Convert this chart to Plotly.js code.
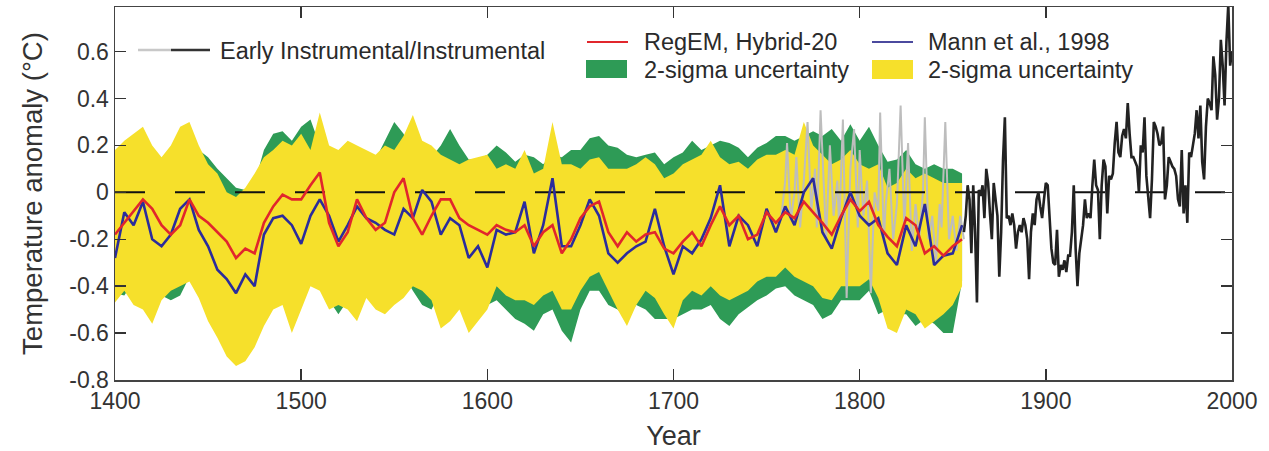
<!DOCTYPE html>
<html>
<head>
<meta charset="utf-8">
<script src="https://cdn.plot.ly/plotly-3.0.1.min.js"></script>
<style>
html,body{margin:0;padding:0;background:#fff;}
#chart{width:1269px;height:451px;}
</style>
</head>
<body>
<div id="chart"></div>
<script>
// ---------- DATA ----------
var recYears = [1400,1405,1410,1415,1420,1425,1430,1435,1440,1445,1450,1455,1460,1465,1470,1475,1480,1485,1490,1495,
1500,1505,1510,1515,1520,1525,1530,1535,1540,1545,1550,1555,1560,1565,1570,1575,1580,1585,1590,1595,
1600,1605,1610,1615,1620,1625,1630,1635,1640,1645,1650,1655,1660,1665,1670,1675,1680,1685,1690,1695,
1700,1705,1710,1715,1720,1725,1730,1735,1740,1745,1750,1755,1760,1765,1770,1775,1780,1785,1790,1795,
1800,1805,1810,1815,1820,1825,1830,1835,1840,1845,1850,1855];

// RegEM, Hybrid-20 reconstruction
var regem = [-0.18,-0.13,-0.085,-0.03,-0.07,-0.14,-0.18,-0.14,-0.03,-0.10,-0.13,-0.17,-0.21,-0.28,-0.24,-0.26,-0.13,-0.06,-0.01,-0.03,
-0.03,0.03,0.085,-0.13,-0.23,-0.17,-0.03,-0.11,-0.16,-0.13,0.0,0.06,-0.11,-0.18,-0.10,-0.03,-0.03,-0.11,-0.14,-0.16,
-0.18,-0.14,-0.16,-0.17,-0.14,-0.23,-0.17,-0.14,-0.26,-0.20,-0.11,-0.06,-0.04,-0.17,-0.23,-0.17,-0.21,-0.18,-0.17,-0.24,
-0.26,-0.21,-0.17,-0.23,-0.14,-0.06,-0.14,-0.10,-0.20,-0.18,-0.085,-0.13,-0.085,-0.11,-0.04,-0.085,-0.13,-0.18,-0.10,-0.03,
-0.08,-0.04,-0.14,-0.19,-0.23,-0.11,-0.14,-0.26,-0.23,-0.27,-0.23,-0.20];

// Mann et al., 1998 reconstruction
var mann = [-0.28,-0.085,-0.14,-0.04,-0.20,-0.23,-0.18,-0.07,-0.03,-0.16,-0.23,-0.33,-0.37,-0.43,-0.35,-0.40,-0.18,-0.11,-0.10,-0.14,
-0.22,-0.10,-0.03,-0.10,-0.21,-0.14,-0.06,-0.11,-0.13,-0.16,-0.18,-0.07,-0.11,0.01,-0.04,-0.18,-0.11,-0.14,-0.28,-0.23,
-0.32,-0.16,-0.18,-0.17,-0.04,-0.26,-0.14,0.06,-0.23,-0.23,-0.14,-0.03,-0.10,-0.26,-0.30,-0.26,-0.23,-0.21,-0.07,-0.23,
-0.35,-0.23,-0.26,-0.20,-0.11,0.03,-0.23,-0.10,-0.14,-0.23,-0.07,-0.17,-0.06,-0.14,0.0,0.06,-0.17,-0.24,-0.11,0.0,
-0.10,-0.14,-0.11,-0.26,-0.31,-0.14,-0.23,-0.05,-0.31,-0.27,-0.26,-0.14];

// RegEM 2-sigma band (green)
var regemUpper = [0.15,0.15,0.20,0.22,0.17,0.10,0.12,0.15,0.20,0.18,0.15,0.10,0.06,0.02,0.01,0.04,0.18,0.25,0.26,0.22,
0.28,0.31,0.20,0.08,0.05,0.10,0.14,0.12,0.14,0.22,0.30,0.25,0.15,0.12,0.15,0.20,0.27,0.20,0.14,0.14,
0.16,0.20,0.17,0.13,0.16,0.15,0.12,0.16,0.15,0.18,0.18,0.23,0.24,0.20,0.19,0.16,0.15,0.16,0.17,0.12,
0.15,0.17,0.22,0.18,0.20,0.22,0.21,0.19,0.15,0.19,0.21,0.24,0.24,0.22,0.24,0.26,0.24,0.27,0.22,0.29,
0.22,0.28,0.20,0.13,0.14,0.18,0.12,0.10,0.12,0.10,0.10,0.08];
var regemLower = [-0.43,-0.44,-0.38,-0.36,-0.40,-0.44,-0.46,-0.44,-0.36,-0.38,-0.40,-0.42,-0.46,-0.52,-0.50,-0.50,-0.40,-0.36,-0.30,-0.30,
-0.30,-0.25,-0.22,-0.46,-0.52,-0.46,-0.35,-0.38,-0.42,-0.44,-0.36,-0.35,-0.42,-0.48,-0.50,-0.42,-0.38,-0.38,-0.42,-0.46,
-0.48,-0.46,-0.50,-0.54,-0.56,-0.59,-0.52,-0.50,-0.59,-0.64,-0.50,-0.42,-0.42,-0.48,-0.50,-0.54,-0.48,-0.50,-0.54,-0.54,
-0.54,-0.52,-0.50,-0.50,-0.48,-0.54,-0.57,-0.52,-0.49,-0.46,-0.44,-0.41,-0.40,-0.44,-0.46,-0.48,-0.54,-0.52,-0.46,-0.46,
-0.46,-0.42,-0.52,-0.50,-0.52,-0.52,-0.57,-0.54,-0.56,-0.60,-0.60,-0.38];

// Mann 2-sigma band (yellow)
var mannUpper = [0.18,0.22,0.25,0.28,0.20,0.15,0.20,0.28,0.30,0.20,0.12,0.08,0.00,-0.02,0.02,0.08,0.15,0.18,0.22,0.20,
0.25,0.18,0.34,0.20,0.18,0.22,0.20,0.18,0.16,0.20,0.18,0.24,0.33,0.22,0.20,0.16,0.14,0.12,0.14,0.15,
0.16,0.10,0.12,0.10,0.18,0.08,0.10,0.30,0.12,0.12,0.10,0.14,0.15,0.10,0.10,0.10,0.12,0.15,0.12,0.06,
0.08,0.12,0.14,0.16,0.22,0.15,0.12,0.13,0.10,0.14,0.16,0.16,0.18,0.16,0.30,0.20,0.16,0.12,0.14,0.18,
0.12,0.10,0.12,0.02,0.04,0.10,0.06,0.08,0.06,0.04,0.04,0.04];
var mannLower = [-0.47,-0.42,-0.48,-0.50,-0.56,-0.46,-0.42,-0.40,-0.38,-0.45,-0.55,-0.62,-0.70,-0.74,-0.72,-0.66,-0.57,-0.50,-0.48,-0.60,
-0.50,-0.40,-0.42,-0.50,-0.48,-0.50,-0.55,-0.45,-0.50,-0.52,-0.48,-0.45,-0.40,-0.42,-0.46,-0.58,-0.55,-0.50,-0.60,-0.55,
-0.50,-0.40,-0.44,-0.46,-0.46,-0.48,-0.44,-0.42,-0.50,-0.50,-0.42,-0.36,-0.34,-0.42,-0.50,-0.57,-0.48,-0.42,-0.45,-0.52,
-0.58,-0.46,-0.42,-0.44,-0.40,-0.44,-0.46,-0.44,-0.42,-0.38,-0.36,-0.36,-0.32,-0.36,-0.38,-0.40,-0.45,-0.46,-0.40,-0.40,
-0.40,-0.37,-0.45,-0.58,-0.60,-0.50,-0.52,-0.58,-0.55,-0.52,-0.48,-0.40];

// Early instrumental (grey)
var earlyYears = [1758,1760,1761,1763,1765,1766,1768,1770,1772,1774,1776,1777,1779,1781,1782,1784,1786,1788,1789,1791,1793,1795,1797,1799,
1800,1802,1804,1806,1808,1810,1811,1813,1814,1816,1818,1820,1822,1824,1826,1828,1830,1832,1834,1835,1837,1839,1841,1843,1844,1846,1848,1850,1852,1854,1856];
var earlyVals = [-0.10,0.05,0.21,-0.12,0.00,0.15,-0.15,0.05,0.30,-0.08,0.10,-0.15,0.35,-0.05,-0.20,0.20,-0.10,0.05,-0.15,0.31,-0.45,0.10,0.27,-0.15,
0.18,-0.10,0.05,-0.43,0.00,-0.08,0.34,-0.20,-0.05,0.10,-0.20,-0.05,0.37,-0.15,0.21,-0.25,-0.05,-0.20,0.00,0.32,-0.20,-0.10,-0.30,-0.05,-0.15,0.30,-0.20,-0.10,-0.25,-0.10,-0.20];

// Instrumental (black)
var instYears = [1856,1857,1858,1859,1860,1861,1862,1863,1864,1865,1866,1867,1868,1869,1870,1871,1872,1873,1874,1875,1876,1877,1878,1879,
1880,1881,1882,1883,1884,1885,1886,1887,1888,1889,1890,1891,1892,1893,1894,1895,1896,1897,1898,1899,
1900,1901,1902,1903,1904,1905,1906,1907,1908,1909,1910,1911,1912,1913,1914,1915,1916,1917,1918,1919,
1920,1921,1922,1923,1924,1925,1926,1927,1928,1929,1930,1931,1932,1933,1934,1935,1936,1937,1938,1939,
1940,1941,1942,1943,1944,1945,1946,1947,1948,1949,1950,1951,1952,1953,1954,1955,1956,1957,1958,1959,
1960,1961,1962,1963,1964,1965,1966,1967,1968,1969,1970,1971,1972,1973,1974,1975,1976,1977,1978,1979,
1980,1981,1982,1983,1984,1985,1986,1987,1988,1989,1990,1991,1992,1993,1994,1995,1996,1997,1998,1999,2000];
var instVals = [-0.17,-0.10,0.03,-0.03,-0.26,0.03,-0.17,-0.47,0.01,-0.015,0.03,-0.11,0.10,0.04,-0.09,-0.20,0.04,-0.03,-0.10,-0.36,-0.17,0.14,0.32,-0.11,
-0.10,-0.14,-0.09,-0.14,-0.24,-0.17,-0.14,-0.17,-0.11,-0.14,-0.20,-0.37,-0.17,-0.09,-0.14,-0.03,0.00,-0.06,-0.11,-0.03,
0.04,0.03,-0.10,-0.24,-0.30,-0.31,-0.16,-0.36,-0.31,-0.33,-0.29,-0.34,-0.27,-0.27,-0.17,0.03,-0.24,-0.40,-0.26,-0.20,
-0.14,-0.03,-0.11,-0.09,-0.11,0.03,0.14,0.03,0.01,-0.20,0.03,0.14,0.11,-0.09,0.07,0.055,0.08,0.21,0.30,0.17,
0.15,0.24,0.27,0.23,0.38,0.25,0.15,0.15,0.13,0.11,0.00,0.20,0.17,0.32,0.07,-0.03,-0.11,0.055,0.30,0.28,
0.25,0.20,0.21,0.28,-0.03,0.03,0.15,0.13,0.11,0.10,0.07,-0.03,-0.06,0.18,-0.09,0.03,-0.13,0.17,0.15,0.20,
0.25,0.35,0.23,0.37,0.13,0.055,0.28,0.40,0.38,0.35,0.58,0.50,0.31,0.40,0.65,0.54,0.37,0.64,0.80,0.54,0.60];

// zero reference line
var refYears = [1400, 2000];
var refVals = [0, 0];

// axis ticks
var xTickVals = [1400,1500,1600,1700,1800,1900,2000];
var xTickText = ['1400','1500','1600','1700','1800','1900','2000'];
var yTickVals = [-0.8,-0.6,-0.4,-0.2,0,0.2,0.4,0.6];
var yTickText = ['-0.8','-0.6','-0.4','-0.2','0','0.2','0.4','0.6'];

// legend labels
var legendLabels = ['Early Instrumental/Instrumental','RegEM, Hybrid-20','Mann et al., 1998','2-sigma uncertainty','2-sigma uncertainty'];

// ---------- STYLE ----------
var C = {green:'#2e9b56', yellow:'#f6e02b', red:'#e1262c', blue:'#2b2c9c', grey:'#bdbdbd', black:'#222222', legBlue:'#4b4a9e'};
var FONT = '"Liberation Sans", Arial, Helvetica, sans-serif';

function band(xs, up, lo){
  var x = xs.slice().concat(xs.slice().reverse());
  var y = up.slice().concat(lo.slice().reverse());
  return {x:x, y:y};
}
var gb = band(recYears, regemUpper, regemLower);
var yb = band(recYears, mannUpper, mannLower);

var traces = [
  {x:gb.x, y:gb.y, type:'scatter', mode:'lines', fill:'toself', fillcolor:C.green, line:{width:0, color:C.green}, hoverinfo:'skip'},
  {x:yb.x, y:yb.y, type:'scatter', mode:'lines', fill:'toself', fillcolor:C.yellow, line:{width:0, color:C.yellow}, hoverinfo:'skip'},
  {x:earlyYears, y:earlyVals, type:'scatter', mode:'lines', line:{color:C.grey, width:2}},
  {x:refYears, y:refVals, type:'scatter', mode:'lines', line:{color:'#111', width:2, dash:'30px,30px'}},
  {x:recYears, y:mann, type:'scatter', mode:'lines', line:{color:C.blue, width:2.6}},
  {x:recYears, y:regem, type:'scatter', mode:'lines', line:{color:C.red, width:2.6}},
  {x:instYears, y:instVals, type:'scatter', mode:'lines', line:{color:C.black, width:2.6}}
];

// plot area in px: x 115..1232, y 7..380
var L = 115, R = 1232, T = 7, B = 380;
function px(x){ return (x - L) / (R - L); }
function py(y){ return (B - y) / (B - T); }

var shapes = [
  {type:'line', xref:'paper', yref:'paper', x0:px(138), x1:px(171), y0:py(50), y1:py(50), line:{color:'#c8c8c8', width:2.5}},
  {type:'line', xref:'paper', yref:'paper', x0:px(171), x1:px(210), y0:py(50), y1:py(50), line:{color:'#333', width:2.5}},
  {type:'line', xref:'paper', yref:'paper', x0:px(587), x1:px(628), y0:py(42), y1:py(42), line:{color:C.red, width:2}},
  {type:'line', xref:'paper', yref:'paper', x0:px(872), x1:px(913), y0:py(42), y1:py(42), line:{color:C.legBlue, width:2}},
  {type:'rect', xref:'paper', yref:'paper', x0:px(586), x1:px(627), y0:py(78), y1:py(60), fillcolor:C.green, line:{width:0}},
  {type:'rect', xref:'paper', yref:'paper', x0:px(872), x1:px(913), y0:py(79), y1:py(60), fillcolor:C.yellow, line:{width:0}}
];
var legFont = {family:FONT, size:23.5, color:'#2a2a2a'};
var annotations = [
  {xref:'paper', yref:'paper', x:px(218), y:py(51), text:legendLabels[0], showarrow:false, xanchor:'left', yanchor:'middle', font:legFont},
  {xref:'paper', yref:'paper', x:px(642), y:py(42), text:legendLabels[1], showarrow:false, xanchor:'left', yanchor:'middle', font:legFont},
  {xref:'paper', yref:'paper', x:px(926), y:py(42), text:legendLabels[2], showarrow:false, xanchor:'left', yanchor:'middle', font:legFont},
  {xref:'paper', yref:'paper', x:px(642), y:py(70), text:legendLabels[3], showarrow:false, xanchor:'left', yanchor:'middle', font:legFont},
  {xref:'paper', yref:'paper', x:px(926), y:py(70), text:legendLabels[4], showarrow:false, xanchor:'left', yanchor:'middle', font:legFont}
];

var layout = {
  width:1269, height:451,
  margin:{l:L, r:1269-R, t:T, b:451-B, pad:0},
  paper_bgcolor:'#fff', plot_bgcolor:'#fff',
  showlegend:false,
  font:{family:FONT, color:'#333'},
  xaxis:{
    range:[1400,2000], tickvals:xTickVals, ticktext:xTickText,
    ticks:'inside', ticklen:11, tickwidth:1.5, tickcolor:'#333',
    showline:true, linecolor:'#444', linewidth:1.5, mirror:'allticks',
    showgrid:false, zeroline:false,
    tickfont:{family:FONT, size:23, color:'#333'},
    title:{text:'Year', font:{family:FONT, size:27, color:'#333'}, standoff:13}
  },
  yaxis:{
    range:[-0.8,0.79], tickvals:yTickVals, ticktext:yTickText,
    ticks:'inside', ticklen:11, tickwidth:1.5, tickcolor:'#333',
    showline:true, linecolor:'#444', linewidth:1.5, mirror:'allticks',
    showgrid:false, zeroline:false,
    tickfont:{family:FONT, size:23, color:'#333'},
    title:{text:'Temperature anomaly (°C)', font:{family:FONT, size:27.5, color:'#333'}, standoff:18}
  },
  shapes:shapes,
  annotations:annotations,
  hovermode:false
};

Plotly.newPlot('chart', traces, layout, {displayModeBar:false, staticPlot:true});
</script>
</body>
</html>
